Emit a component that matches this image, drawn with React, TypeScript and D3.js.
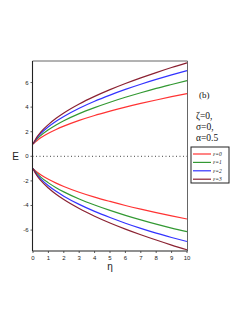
import * as d3 from 'd3';

const etas = [0, 0.25, 0.5, 1, 1.5, 2, 3, 4, 5, 6, 7, 8, 9, 10];

const upperE0 = [1, 1.27, 1.5, 1.87, 2.18, 2.45, 2.92, 3.32, 3.67, 4.0, 4.3, 4.58, 4.85, 5.1];
const upperE1 = [1, 1.39, 1.69, 2.16, 2.55, 2.89, 3.47, 3.96, 4.4, 4.8, 5.17, 5.52, 5.84, 6.15];
const upperE2 = [1, 1.48, 1.84, 2.4, 2.85, 3.24, 3.91, 4.48, 4.98, 5.44, 5.86, 6.25, 6.62, 6.97];
const upperE3 = [1, 1.56, 1.96, 2.58, 3.09, 3.52, 4.25, 4.87, 5.42, 5.92, 6.38, 6.81, 7.22, 7.6];

const lowerE0 = [-1, -1.27, -1.5, -1.87, -2.18, -2.45, -2.92, -3.32, -3.67, -4.0, -4.3, -4.58, -4.85, -5.1];
const lowerE1 = [-1, -1.39, -1.69, -2.16, -2.55, -2.89, -3.47, -3.96, -4.4, -4.8, -5.17, -5.52, -5.84, -6.13];
const lowerE2 = [-1, -1.48, -1.84, -2.4, -2.85, -3.24, -3.91, -4.48, -4.98, -5.44, -5.86, -6.25, -6.6, -6.93];
const lowerE3 = [-1, -1.56, -1.96, -2.58, -3.09, -3.52, -4.25, -4.87, -5.42, -5.92, -6.38, -6.81, -7.22, -7.6];

const legendLabels = ['\u03b5=0', '\u03b5=1', '\u03b5=2', '\u03b5=3'];
const colors = ['#ff3333', '#339933', '#3333ff', '#8b2232'];
const xTicks = [0, 1, 2, 3, 4, 5, 6, 7, 8, 9, 10];
const yTicks = [-6, -4, -2, 0, 2, 4, 6];
const params = ['\u03b6=0,', '\u03c3=0,', '\u03b1=0.5'];

const W = 249;
const H = 323;
const plot = { left: 32.5, right: 187.5, top: 61, bottom: 251 };

export default function App() {
  const x = d3.scaleLinear().domain([0, 10]).range([33, 187]);
  const y = d3.scaleLinear().domain([-7.7, 7.75]).range([plot.bottom, plot.top]);

  const line = d3.line<[number, number]>()
    .x(d => x(d[0]))
    .y(d => y(d[1]))
    .curve(d3.curveMonotoneX);

  const uppers = [upperE0, upperE1, upperE2, upperE3];
  const lowers = [lowerE0, lowerE1, lowerE2, lowerE3];

  const tickFont = 'Liberation Sans, Arial, sans-serif';
  const serif = 'Liberation Serif, Times New Roman, serif';

  return (
    <svg width={W} height={H} style={{ position: 'fixed', left: 0, top: 0, background: '#fff' }}>
      {/* zero line */}
      <line x1={plot.left} x2={plot.right} y1={y(0)} y2={y(0)}
        stroke="#444" strokeWidth={1} strokeDasharray="1,2.5" />

      {/* curves */}
      {uppers.map((s, i) => (
        <path key={'u' + i} d={line(etas.map((e, j) => [e, s[j]] as [number, number])) || ''}
          fill="none" stroke={colors[i]} strokeWidth={1.2} />
      ))}
      {lowers.map((s, i) => (
        <path key={'l' + i} d={line(etas.map((e, j) => [e, s[j]] as [number, number])) || ''}
          fill="none" stroke={colors[i]} strokeWidth={1.2} />
      ))}

      {/* frame */}
      <line x1={plot.left} x2={plot.right} y1={plot.top} y2={plot.top} stroke="#666" strokeWidth={1} />
      <line x1={plot.right} x2={plot.right} y1={plot.top} y2={plot.bottom} stroke="#666" strokeWidth={1} />
      <line x1={plot.left} x2={plot.left} y1={plot.top} y2={plot.bottom} stroke="#222" strokeWidth={1.1} />
      <line x1={plot.left} x2={plot.right} y1={plot.bottom} y2={plot.bottom} stroke="#222" strokeWidth={1.1} />

      {/* x ticks */}
      {xTicks.map(t => (
        <g key={'x' + t}>
          <line x1={x(t)} x2={x(t)} y1={plot.bottom} y2={plot.bottom + 2} stroke="#333" strokeWidth={0.8} />
          <text x={x(t)} y={plot.bottom + 9} fontSize={6} fontFamily={tickFont}
            textAnchor="middle" fill="#222">{t}</text>
        </g>
      ))}
      {/* y ticks */}
      {yTicks.map(t => (
        <g key={'y' + t}>
          <line x1={plot.left - 2} x2={plot.left} y1={y(t)} y2={y(t)} stroke="#333" strokeWidth={0.8} />
          <text x={plot.left - 4} y={y(t) + 2} fontSize={6} fontFamily={tickFont}
            textAnchor="end" fill="#222">{t}</text>
        </g>
      ))}

      {/* axis titles */}
      <text x={15.5} y={y(0) + 3.5} fontSize={10} fontFamily={tickFont} textAnchor="middle" fill="#222">E</text>
      <text x={110} y={270} fontSize={10} fontFamily={tickFont} textAnchor="middle" fill="#222">{'\u03b7'}</text>

      {/* annotation */}
      <text x={199} y={98} fontSize={9} fontFamily={serif} fill="#111">(b)</text>
      {params.map((p, i) => (
        <text key={p} x={196} y={119 + i * 11} fontSize={9.5} fontFamily={serif} fill="#111">{p}</text>
      ))}

      {/* legend */}
      <rect x={191} y={147} width={38} height={36} fill="#fff" stroke="#222" strokeWidth={1} />
      {legendLabels.map((lab, i) => {
        const ly = 154 + i * 8.4;
        return (
          <g key={lab}>
            <line x1={193} x2={211} y1={ly} y2={ly} stroke={colors[i]} strokeWidth={1.2} />
            <text x={213} y={ly + 2} fontSize={5.5} fontFamily={serif} fontStyle="italic" fill="#222">{lab}</text>
          </g>
        );
      })}
    </svg>
  );
}
